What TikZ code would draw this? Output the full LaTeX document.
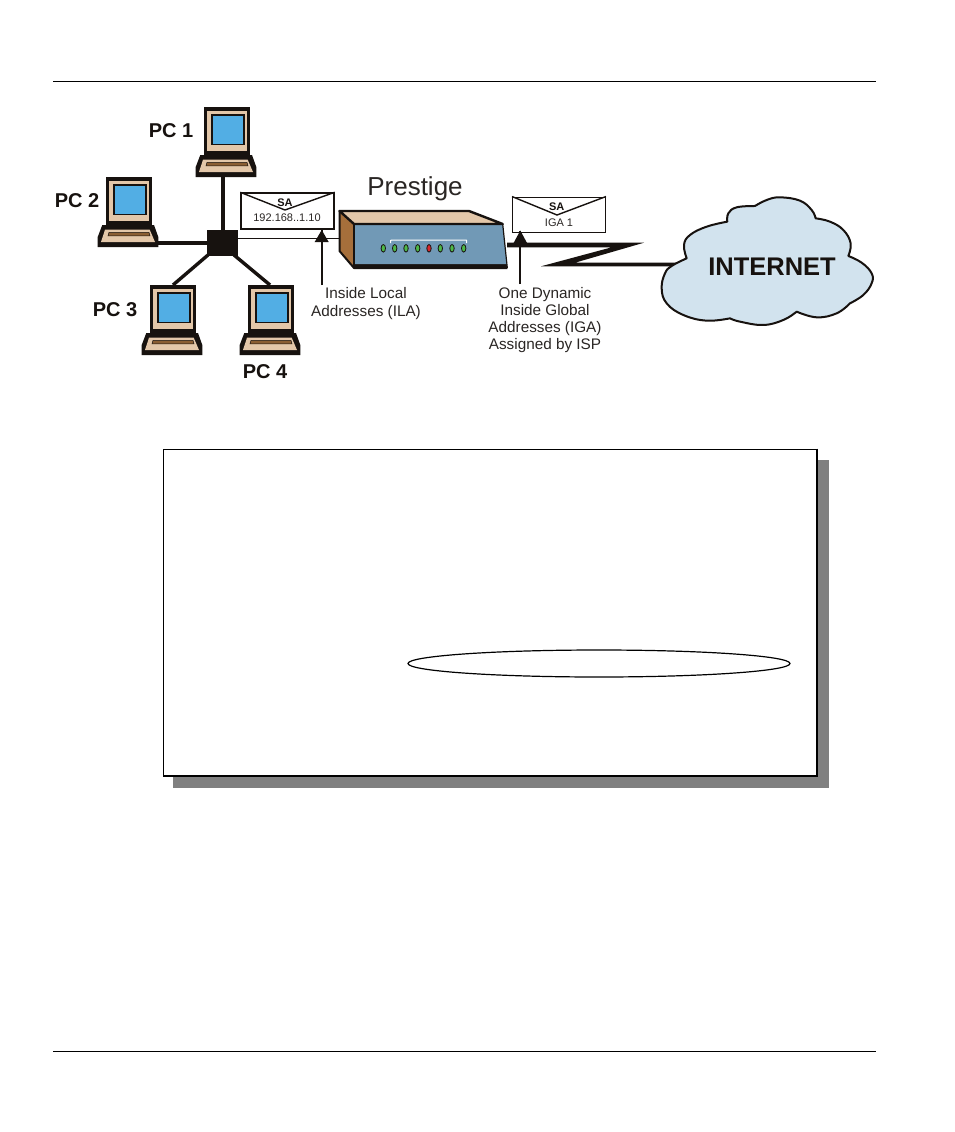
\documentclass[tikz,border=0pt]{standalone}
\usepackage{fontspec}
\usetikzlibrary{shapes.geometric}
\setmainfont{Liberation Sans}
\definecolor{ink}{HTML}{17120F}
\definecolor{beige}{HTML}{E3C7A9}
\definecolor{scr}{HTML}{52AEE4}
\definecolor{slot}{HTML}{8A5E33}
\definecolor{brownface}{HTML}{A66F3B}
\definecolor{boxblue}{HTML}{7199B6}
\definecolor{ledgreen}{HTML}{4DB848}
\definecolor{ledred}{HTML}{D8262C}
\definecolor{cloudblue}{HTML}{D2E3EE}
\definecolor{lab}{HTML}{2A2624}
\newcommand{\fs}[1]{\fontsize{#1}{#1}\selectfont}
\tikzset{
  pclabel/.style={font=\fs{20}\bfseries,text=ink,inner sep=0pt},
  lablines/.style={font=\fs{15.3},text=lab,inner sep=0pt,anchor=base},
  envbox/.style={draw=ink,line width=1.4pt,fill=white,inner sep=0pt,minimum width=#1},
  envsa/.style={font=\fs{11}\bfseries,text=ink,inner sep=0pt,anchor=base},
  envtxt/.style={font=\fs{11},text=lab,inner sep=0pt,anchor=base},
  link/.style={draw=ink,line width=3.4pt},
  pointer/.style={draw=ink,line width=2pt},
  pointerhead/.style={fill=ink,draw=none},
  rule/.style={draw=black,line width=1pt},
  led/.style={draw=ink,line width=.8pt,fill=#1},
  pcicon/.pic={
    \fill[ink] (0,0) rectangle (46,48);
    \fill[beige] (3,3.5) rectangle (43,43.5);
    \fill[ink] (7,7) rectangle (40.5,38);
    \fill[scr] (8.5,8.5) rectangle (39,36.5);
    \fill[ink] (-3.7,48) -- (48,48) -- (52.3,60) -- (52.3,70) -- (-8.3,70) -- (-8.3,60) -- cycle;
    \fill[beige] (-1,52.7) -- (43.7,52.7) -- (49,65) -- (-5,65) -- cycle;
    \fill[slot,draw=ink,line width=.5pt] (3,55.3) -- (43,55.3) -- (44,58.8) -- (2,58.8) -- cycle;
    \coordinate (-top) at (23,0);
    \coordinate (-bot) at (19,70);
    \coordinate (-right) at (52,66);
  }
}
\begin{document}
\begin{tikzpicture}[x=1pt,y=-1pt]
\useasboundingbox (0,0) rectangle (954,1132);
\fill[white] (0,0) rectangle (954,1132);
% page rules
\coordinate (r1a) at (53,81); \coordinate (r1b) at (876,81);
\coordinate (r2a) at (53,1051); \coordinate (r2b) at (876,1051);
\draw[rule] (r1a) -- (r1b);
\draw[rule] (r2a) -- (r2b);
% PCs
\pic (pc1) at (204,107) {pcicon};
\pic (pc2) at (106,177) {pcicon};
\pic (pc3) at (150,285) {pcicon};
\pic (pc4) at (248,285) {pcicon};
\node[pclabel] (l1) at (171,131) {PC 1};
\node[pclabel] (l2) at (77,201) {PC 2};
\node[pclabel] (l3) at (115,310) {PC 3};
\node[pclabel] (l4) at (265,372) {PC 4};
% router anchor
\coordinate (rtrL) at (340,238.5);
% hub and links
\node[fill=ink,minimum width=31pt,minimum height=26pt,inner sep=0pt] (hub) at (222.5,243) {};
\draw[link] (pc1-bot) -- (hub.north -| pc1-bot);
\draw[link] (pc2-right) -- (hub.west);
\coordinate (p3) at (173,285); \coordinate (h3) at (208,255);
\coordinate (p4) at (270,285); \coordinate (h4) at (234,255);
\draw[link] (p3) -- (h3);
\draw[link] (p4) -- (h4);
\draw[draw=ink,line width=1.5pt] (hub.east |- rtrL) -- (rtrL);
% envelope 1
\node[envbox=93pt,minimum height=36pt] (env1) at (287.5,211) {};
\coordinate (v1) at (285,210);
\draw[draw=ink,line width=1.4pt] (env1.north west) -- (v1) -- (env1.north east);
\node[envsa] (sa1) at (285,206) {SA};
\node[envtxt] (ip1) at (287,221.7) {192.168..1.10};
% pointer 1
\coordinate (a1t) at (321.7,230); \coordinate (a1b) at (321.7,285);
\draw[pointer] (a1b) -- (a1t);
\fill[pointerhead] (a1t) -- (328.7,242) -- (314.7,242) -- cycle;
% router
\fill[brownface] (339.5,211.5) -- (354,224) -- (354,268) -- (339.5,251) -- cycle;
\fill[beige] (340,211) -- (469,211) -- (502.7,224) -- (354,224) -- cycle;
\fill[ink] (354,264) -- (506.7,264) -- (507.3,268) -- (354,268) -- cycle;
\fill[boxblue] (354,224) -- (502.7,224) -- (506.7,264) -- (354,264) -- cycle;
\draw[ink,line width=2.4pt,line join=round] (339.5,211) -- (469,211) -- (502.7,224) -- (354,224) -- cycle;
\draw[ink,line width=2pt,line join=round] (339.5,211) -- (339.5,251) -- (354,268) -- (507.3,268);
\draw[ink,line width=1.2pt] (502.7,224) -- (507.3,268);
\draw[ink,line width=1.4pt] (354,224) -- (354,268);
\draw[white,line width=1pt] (390.7,243) -- (390.7,240.5) -- (391.5,240) -- (466,240) -- (466.7,240.5) -- (466.7,243);
\foreach \lx/\lc in {383.3/ledgreen,394.7/ledgreen,406/ledgreen,417.7/ledgreen,429/ledred,440.3/ledgreen,452/ledgreen,463.7/ledgreen}
  \draw[led=\lc] (\lx,248.3) ellipse [x radius=2.2,y radius=3.8];
\node[font=\fs{26},text=lab,inner sep=0pt,anchor=base] (prestige) at (415,195) {Prestige};
% labels
\node[lablines] (ila1) at (366,298.8) {Inside Local};
\node[lablines] (ila2) at (366,316) {Addresses (ILA)};
\node[lablines] (iga1) at (545,298) {One Dynamic};
\node[lablines] (iga2) at (545,315) {Inside Global};
\node[lablines] (iga3) at (545,332) {Addresses (IGA)};
\node[lablines] (iga4) at (545,349) {Assigned by ISP};
% WAN lightning link
\fill[ink] (507,242.7) -- (644,242.7) -- (575,262.7) -- (680,262.7) -- (680,266.3) -- (541,266.3) -- (611.7,247.3) -- (507,247.3) -- cycle;
% envelope 2
\node[envbox=92.5pt,minimum height=35.5pt] (env2) at (559,215) {};
\coordinate (v2) at (557,215);
\draw[draw=ink,line width=1.4pt] (env2.north west) -- (v2) -- (env2.north east);
\node[envsa] (sa2) at (556.7,210) {SA};
\node[envtxt] (ip2) at (559,226.3) {IGA 1};
% pointer 2
\coordinate (a2t) at (520.3,230.5); \coordinate (a2b) at (520.3,284);
\draw[pointer] (a2b) -- (a2t);
\fill[pointerhead] (a2t) -- (527.3,243.5) -- (513.3,243.5) -- cycle;
% cloud
\begin{scope}[shift={(640,180)},xscale=.3333,yscale=.3333]
\draw[ink,line width=2pt,fill=cloudblue,line join=round]
  plot[smooth,tension=.7] coordinates {(140,235) (132,195) (150,165) (200,140) (262,125)}
  -- plot[smooth,tension=.7] coordinates {(262,125) (265,100) (290,82) (345,78)}
  -- plot[smooth,tension=.7] coordinates {(345,78) (380,60) (420,52) (480,62) (515,90) (527,115)}
  -- plot[smooth,tension=.7] coordinates {(527,115) (570,125) (610,150) (632,190) (625,228)}
  -- plot[smooth,tension=.7] coordinates {(625,228) (665,248) (695,280) (695,310) (670,345) (630,370)}
  -- plot[smooth,tension=.7] coordinates {(630,370) (590,400) (530,412) (470,395)}
  -- plot[smooth,tension=.7] coordinates {(470,395) (430,420) (370,435) (300,425) (270,415)}
  -- plot[smooth,tension=.7] coordinates {(270,415) (200,422) (130,405) (80,370) (65,325) (75,280) (95,258) (140,235)}
  -- cycle;
\end{scope}
\node[font=\fs{25.5}\bfseries,text=ink,inner sep=0pt] (inet) at (772,267) {INTERNET};
% panel
\fill[black!50] (173,460) rectangle (829,788);
\node[draw=black,line width=1.2pt,fill=white,minimum width=653.5pt,minimum height=326.5pt,inner sep=0pt] (panel) at (490,612.5) {};
\draw[black,line width=2pt] (panel.north east) -- (panel.south east) -- (panel.south west);
\node[draw=black,line width=1.2pt,ellipse,fill=white,minimum width=382pt,minimum height=27pt,inner sep=0pt] (oval) at (599,663.5) {};
\end{tikzpicture}
\end{document}
